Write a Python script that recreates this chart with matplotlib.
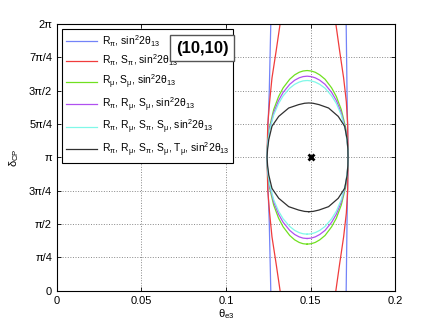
import numpy as np
import matplotlib.pyplot as plt

plt.rcParams['font.family'] = ['Liberation Sans', 'DejaVu Sans']
plt.rcParams['mathtext.fontset'] = 'dejavusans'

# contornos (theta_e3, delta_CP)
delta_blue = [0.0, 1.6, 2.6, 3.142, 3.7, 4.7, 6.283]
left_blue = [0.1265, 0.1256, 0.1247, 0.1244, 0.1247, 0.1256, 0.1265]
right_blue = [0.1711, 0.1716, 0.1720, 0.1722, 0.1720, 0.1716, 0.1711]

delta_red = [0.0, 0.65, 1.27, 1.83, 2.37, 3.142, 3.91, 4.45, 5.01, 5.63, 6.283]
left_red = [0.1320, 0.1296, 0.1272, 0.1258, 0.1247, 0.1243, 0.1247, 0.1258, 0.1272, 0.1296, 0.1320]
right_red = [0.1650, 0.1673, 0.1696, 0.1712, 0.1720, 0.1722, 0.1720, 0.1712, 0.1696, 0.1673, 0.1650]

delta_green = [1.097, 1.107, 1.137, 1.199, 1.301, 1.506, 1.710, 2.017, 2.426, 2.733, 2.937, 3.142,
               3.346, 3.551, 3.857, 4.266, 4.573, 4.778, 4.982, 5.084, 5.146, 5.176, 5.187]
left_green = [0.148, 0.1456, 0.1433, 0.1406, 0.1377, 0.1338, 0.1311, 0.1282, 0.1258, 0.1248, 0.1244, 0.1243,
              0.1244, 0.1248, 0.1258, 0.1282, 0.1311, 0.1338, 0.1377, 0.1406, 0.1433, 0.1456, 0.148]
right_green = [0.148, 0.1504, 0.1528, 0.1555, 0.1586, 0.1625, 0.1653, 0.1682, 0.1707, 0.1717, 0.1721, 0.1722,
               0.1721, 0.1717, 0.1707, 0.1682, 0.1653, 0.1625, 0.1586, 0.1555, 0.1528, 0.1504, 0.148]

delta_purple = [1.230, 1.239, 1.268, 1.325, 1.421, 1.612, 1.803, 2.090, 2.472, 2.760, 2.951, 3.142,
                3.333, 3.524, 3.811, 4.193, 4.480, 4.671, 4.862, 4.958, 5.015, 5.044, 5.054]
left_purple = [0.148, 0.1456, 0.1433, 0.1406, 0.1377, 0.1338, 0.1311, 0.1282, 0.1258, 0.1248, 0.1244, 0.1243,
               0.1244, 0.1248, 0.1258, 0.1282, 0.1311, 0.1338, 0.1377, 0.1406, 0.1433, 0.1456, 0.148]
right_purple = [0.148, 0.1504, 0.1528, 0.1555, 0.1586, 0.1625, 0.1653, 0.1682, 0.1707, 0.1717, 0.1721, 0.1722,
                0.1721, 0.1717, 0.1707, 0.1682, 0.1653, 0.1625, 0.1586, 0.1555, 0.1528, 0.1504, 0.148]

delta_cyan = [1.332, 1.341, 1.368, 1.422, 1.513, 1.694, 1.875, 2.146, 2.508, 2.780, 2.961, 3.142,
              3.323, 3.504, 3.775, 4.137, 4.409, 4.590, 4.771, 4.861, 4.915, 4.943, 4.952]
left_cyan = [0.148, 0.1456, 0.1433, 0.1406, 0.1377, 0.1338, 0.1311, 0.1282, 0.1258, 0.1248, 0.1244, 0.1243,
             0.1244, 0.1248, 0.1258, 0.1282, 0.1311, 0.1338, 0.1377, 0.1406, 0.1433, 0.1456, 0.148]
right_cyan = [0.148, 0.1504, 0.1528, 0.1555, 0.1586, 0.1625, 0.1653, 0.1682, 0.1707, 0.1717, 0.1721, 0.1722,
              0.1721, 0.1717, 0.1707, 0.1682, 0.1653, 0.1625, 0.1586, 0.1555, 0.1528, 0.1504, 0.148]

delta_black = [1.861, 1.868, 1.900, 1.980, 2.177, 2.410, 2.726, 2.950, 3.142,
               3.334, 3.558, 3.874, 4.107, 4.304, 4.384, 4.416, 4.423]
left_black = [0.149, 0.1465, 0.1430, 0.1371, 0.1312, 0.1272, 0.1253, 0.1246, 0.1243,
              0.1246, 0.1253, 0.1272, 0.1312, 0.1371, 0.1430, 0.1465, 0.149]
right_black = [0.149, 0.1515, 0.1550, 0.1607, 0.1664, 0.1702, 0.1717, 0.1721, 0.1722,
               0.1721, 0.1717, 0.1702, 0.1664, 0.1607, 0.1550, 0.1515, 0.149]

true_point = (0.15, np.pi)

labels = [r'R$_{\mathregular{π}}$, sin$^{\mathregular{2}}$2θ$_{\mathregular{13}}$',
          r'R$_{\mathregular{π}}$, S$_{\mathregular{π}}$, sin$^{\mathregular{2}}$2θ$_{\mathregular{13}}$',
          r'R$_{\mathregular{μ}}$, S$_{\mathregular{μ}}$, sin$^{\mathregular{2}}$2θ$_{\mathregular{13}}$',
          r'R$_{\mathregular{π}}$, R$_{\mathregular{μ}}$, S$_{\mathregular{μ}}$, sin$^{\mathregular{2}}$2θ$_{\mathregular{13}}$',
          r'R$_{\mathregular{π}}$, R$_{\mathregular{μ}}$, S$_{\mathregular{π}}$, S$_{\mathregular{μ}}$, sin$^{\mathregular{2}}$2θ$_{\mathregular{13}}$',
          r'R$_{\mathregular{π}}$, R$_{\mathregular{μ}}$, S$_{\mathregular{π}}$, S$_{\mathregular{μ}}$, T$_{\mathregular{μ}}$, sin$^{\mathregular{2}}$2θ$_{\mathregular{13}}$']
colores = ['#7383f8', '#f03c3c', '#70e020', '#b050f0', '#80f8e8', '#303030']

fig = plt.figure(figsize=(4.36, 3.27), dpi=100)
ax = fig.add_axes([0.1307, 0.111, 0.7753, 0.8156])

# curvas abiertas (se cortan en los bordes)
h = []
for i, (d, l, r) in enumerate([(delta_blue, left_blue, right_blue), (delta_red, left_red, right_red)]):
    ln, = ax.plot(l, d, color=colores[i], lw=0.9)
    ax.plot(r, d, color=colores[i], lw=0.9)
    h.append(ln)

# curvas cerradas
cerradas = [(delta_green, left_green, right_green), (delta_purple, left_purple, right_purple),
            (delta_cyan, left_cyan, right_cyan), (delta_black, left_black, right_black)]
for i, (d, l, r) in enumerate(cerradas):
    x = list(l) + list(r)[::-1]
    y = list(d) + list(d)[::-1]
    ln, = ax.plot(x, y, color=colores[i + 2], lw=0.9)
    h.append(ln)

ax.plot(*true_point, marker='x', color='k', ms=4, mew=2)

ax.set_xlim(0, 0.2)
ax.set_ylim(0, 2 * np.pi)
ax.set_xticks([0, 0.05, 0.1, 0.15, 0.2])
ax.set_xticklabels(['0', '0.05', '0.1', '0.15', '0.2'])
ax.set_yticks(np.arange(9) * np.pi / 4)
ax.set_yticklabels(['0', 'π/4', 'π/2', '3π/4', 'π', '5π/4', '3π/2', '7π/4', '2π'])
ax.tick_params(direction='in', top=True, right=True, labelsize=8, length=3, width=0.6)
ax.grid(True, linestyle=':', color='#888888', lw=0.7)
for s in ax.spines.values():
    s.set_linewidth(0.8)

ax.set_xlabel(r'θ$_{\mathregular{e3}}$', fontsize=8, labelpad=1)
ax.set_ylabel(r'δ$_{\mathregular{CP}}$', fontsize=8, labelpad=6)

leg = ax.legend(h, labels, loc='upper left', bbox_to_anchor=(0.0148, 0.981), fontsize=7.5,
                frameon=True, fancybox=False, framealpha=1, edgecolor='k',
                labelspacing=0.42, handlelength=3.0, handletextpad=0.4, borderaxespad=0,
                borderpad=0.4)
leg.get_frame().set_linewidth(0.8)

ax.text(0.43, 0.91, '(10,10)', transform=ax.transAxes, fontsize=12, fontweight='bold',
        ha='center', va='center', zorder=10,
        bbox=dict(boxstyle='square,pad=0.35', fc='white', ec='#555555', lw=1))

fig.savefig('out.png', dpi=100)
